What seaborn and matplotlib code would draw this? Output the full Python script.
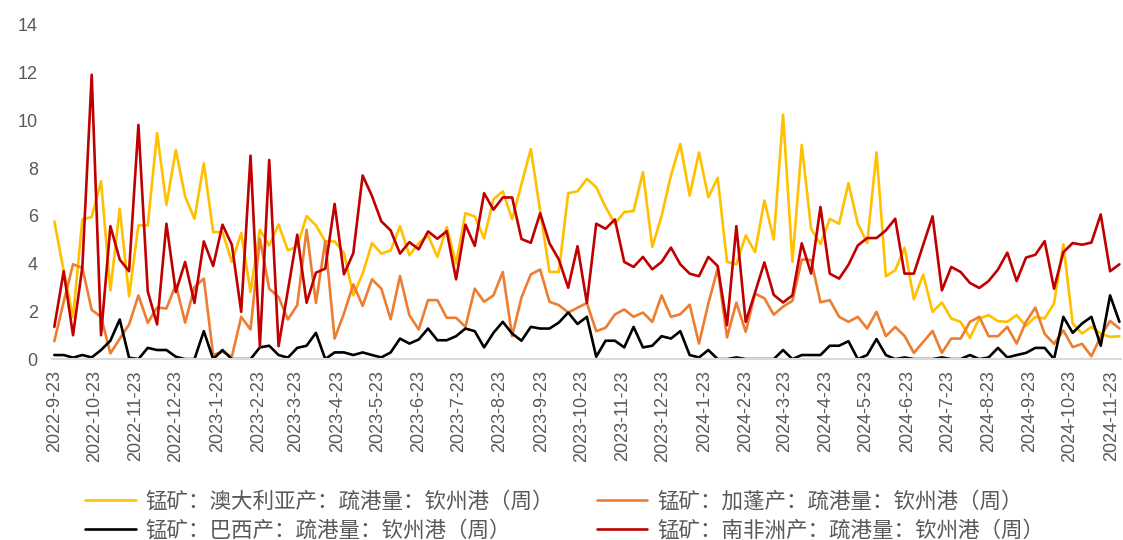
import pandas as pd
import matplotlib.pyplot as plt
import seaborn as sns

# weekly port clearance of manganese ore at Qinzhou, by origin
dates = pd.date_range('2022-09-23', periods=115, freq='7D')

australia = [5.77, 3.7, 1.75, 5.85, 5.95, 7.45, 2.88, 6.30, 2.63, 5.60,
             5.60, 9.47, 6.46, 8.76, 6.81, 5.88, 8.20, 5.32, 5.32, 4.07,
             5.28, 2.81, 5.42, 4.76, 5.64, 4.55, 4.72, 5.99, 5.60, 4.93,
             4.93, 4.44, 2.67, 3.58, 4.86, 4.42, 4.55, 5.57, 4.35, 4.86,
             5.18, 4.28, 5.53, 4.00, 6.11, 5.98, 5.06, 6.69, 7.03, 5.86,
             7.33, 8.80, 6.2, 3.65, 3.65, 6.95, 7.03, 7.55, 7.20, 6.37,
             5.67, 6.16, 6.20, 7.83, 4.70, 6.0, 7.7, 9.01, 6.85, 8.65,
             6.78, 7.59, 4.07, 3.97, 5.18, 4.48, 6.64, 5.01, 10.24, 4.07,
             8.97, 5.46, 4.82, 5.87, 5.67, 7.37, 5.67, 4.86, 8.66, 3.47,
             3.72, 4.67, 2.51, 3.54, 1.98, 2.37, 1.70, 1.56, 0.89, 1.70,
             1.84, 1.59, 1.56, 1.84, 1.39, 1.77, 1.70, 2.33, 4.81, 1.49,
             1.07, 1.35, 1.07, 0.93, 0.96]

gabon = [0.75, 2.4, 3.97, 3.82, 2.06, 1.77, 0.24, 0.85, 1.45, 2.67,
         1.52, 2.16, 2.12, 3.12, 1.53, 3.02, 3.37, 0.17, 0.31, 0.10,
         1.77, 1.24, 5.04, 2.95, 2.60, 1.66, 2.26, 5.42, 2.35, 4.94,
         0.86, 1.91, 3.13, 2.23, 3.34, 2.95, 1.67, 3.48, 1.84, 1.24,
         2.47, 2.47, 1.73, 1.73, 1.35, 2.95, 2.40, 2.67, 3.65, 0.96,
         2.58, 3.55, 3.75, 2.40, 2.26, 1.95, 2.15, 2.35, 1.17, 1.31,
         1.87, 2.08, 1.77, 1.95, 1.56, 2.67, 1.77, 1.88, 2.28, 0.65,
         2.33, 3.79, 0.91, 2.37, 1.14, 2.74, 2.55, 1.86, 2.20, 2.44,
         4.17, 4.15, 2.38, 2.47, 1.77, 1.56, 1.77, 1.28, 1.98, 0.96,
         1.35, 0.97, 0.26, 0.72, 1.18, 0.26, 0.86, 0.86, 1.56, 1.77,
         0.96, 0.96, 1.35, 0.65, 1.56, 2.16, 1.05, 0.64, 1.2, 0.5,
         0.64, 0.12, 0.95, 1.6, 1.28]

brazil = [0.17, 0.17, 0.06, 0.17, 0.07, 0.38, 0.77, 1.66, 0.06, 0.0,
          0.47, 0.38, 0.38, 0.10, 0.0, 0.0, 1.17, 0.0, 0.38, 0.0,
          0.0, 0.0, 0.49, 0.56, 0.17, 0.06, 0.47, 0.56, 1.10, 0.0,
          0.28, 0.28, 0.17, 0.28, 0.17, 0.07, 0.28, 0.86, 0.65, 0.82,
          1.28, 0.79, 0.79, 0.96, 1.28, 1.17, 0.49, 1.10, 1.56, 1.07,
          0.77, 1.35, 1.28, 1.28, 1.53, 1.95, 1.47, 1.77, 0.1, 0.77,
          0.77, 0.49, 1.35, 0.49, 0.56, 0.96, 0.86, 1.17, 0.17, 0.07,
          0.38, 0.0, 0.0, 0.07, 0.0, 0.0, 0.0, 0.0, 0.38, 0.0,
          0.17, 0.17, 0.17, 0.56, 0.56, 0.75, 0.0, 0.17, 0.84, 0.17,
          0.0, 0.07, 0.0, 0.0, 0.0, 0.07, 0.0, 0.0, 0.17, 0.0,
          0.07, 0.47, 0.07, 0.17, 0.26, 0.47, 0.47, 0.0, 1.77, 1.10,
          1.49, 1.77, 0.56, 2.67, 1.56]

south_africa = [1.35, 3.68, 1.00, 3.86, 11.91, 1.00, 5.57, 4.17, 3.68, 9.81,
                2.84, 1.45, 5.67, 2.81, 4.07, 2.35, 4.93, 3.90, 5.63, 4.79,
                1.98, 8.52, 0.52, 8.34, 0.54, 2.88, 5.21, 2.36, 3.62, 3.79,
                6.50, 3.55, 4.44, 7.69, 6.83, 5.77, 5.39, 4.42, 4.90, 4.60,
                5.35, 5.04, 5.36, 3.34, 5.63, 4.74, 6.95, 6.26, 6.77, 6.77,
                5.03, 4.87, 6.11, 4.85, 4.17, 2.99, 4.73, 2.35, 5.67, 5.46,
                5.85, 4.07, 3.86, 4.28, 3.76, 4.07, 4.67, 3.97, 3.58, 3.47,
                4.28, 3.90, 1.42, 5.57, 1.56, 2.79, 4.05, 2.69, 2.37, 2.67,
                4.85, 3.58, 6.37, 3.58, 3.37, 3.95, 4.76, 5.07, 5.07, 5.39,
                5.88, 3.58, 3.58, 4.79, 5.98, 2.88, 3.86, 3.65, 3.19, 2.98,
                3.27, 3.75, 4.46, 3.27, 4.25, 4.37, 4.94, 2.95, 4.48, 4.86,
                4.79, 4.88, 6.06, 3.68, 3.97]

labels = ['锰矿：澳大利亚产：疏港量：钦州港（周）',
          '锰矿：加蓬产：疏港量：钦州港（周）',
          '锰矿：巴西产：疏港量：钦州港（周）',
          '锰矿：南非洲产：疏港量：钦州港（周）']
colors = ['#FFC000', '#ED7D31', '#000000', '#C00000']
series = [australia, gabon, brazil, south_africa]

tick_dates = [pd.Timestamp('2022-09-23') + pd.DateOffset(months=k) for k in range(27)]
tick_labels = [f'{d.year}-{d.month}-{d.day}' for d in tick_dates]

sns.set_style('white')
plt.rcParams['font.family'] = ['Noto Sans CJK SC', 'DejaVu Sans']

fig, ax = plt.subplots(figsize=(11.23, 5.4), dpi=100)
fig.subplots_adjust(left=0.046, right=0.998, top=0.954, bottom=0.335)

for vals, lab, col in zip(series, labels, colors):
    df = pd.DataFrame({'date': dates, 'value': vals})
    sns.lineplot(data=df, x='date', y='value', color=col, linewidth=1.9,
                 label=lab, ax=ax, legend=False)

ax.set_ylim(0, 14)
ax.set_yticks(range(0, 15, 2))
ax.set_xlim(dates[0] - pd.Timedelta(days=2), dates[-1] + pd.Timedelta(days=1))
ax.set_xticks(tick_dates)
ax.set_xticklabels(tick_labels, rotation=90,
                   family=['Liberation Sans Narrow', 'Liberation Sans', 'DejaVu Sans'],
                   fontsize=13, color='#595959')
ax.tick_params(axis='y', length=0, pad=10, labelsize=13, labelcolor='#595959')
ax.tick_params(axis='x', length=5, width=1.2, color='#D9D9D9', pad=3)
for lab in ax.get_yticklabels():
    lab.set_family(['Liberation Sans', 'DejaVu Sans'])
ax.set_xlabel('')
ax.set_ylabel('')
sns.despine(ax=ax, left=True)
ax.spines['bottom'].set_color('#D9D9D9')
ax.spines['bottom'].set_linewidth(1.5)

# legend: Australia / Gabon on first row, Brazil / South Africa on second
handles, labs = ax.get_legend_handles_labels()
order = [0, 2, 1, 3]
fig.legend([handles[i] for i in order], [labs[i] for i in order],
           loc='center left', bbox_to_anchor=(0.0757, 0.044), ncol=2, frameon=False,
           handlelength=2.35, handletextpad=0.45, borderpad=0, borderaxespad=0,
           columnspacing=2.0, labelspacing=0.3,
           prop={'family': ['Noto Sans CJK SC', 'DejaVu Sans'], 'size': 15.5, 'weight': 'light'},
           labelcolor='#595959')

plt.savefig('out.png', dpi=100)
plt.close()
